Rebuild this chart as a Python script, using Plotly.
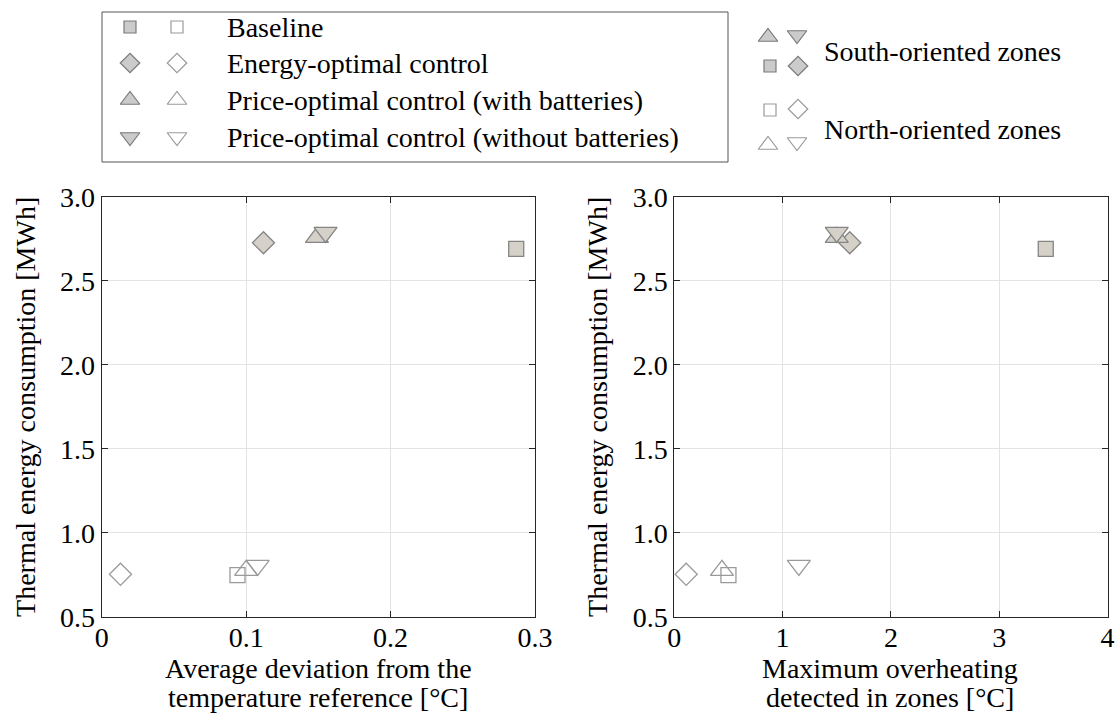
import plotly.graph_objects as go

W, H = 1117, 715

# ---------------- data ----------------
strategies = ["Baseline", "Energy-optimal control",
              "Price-optimal control (with batteries)",
              "Price-optimal control (without batteries)"]
symbols = ["square", "diamond", "triangle-up", "triangle-down"]

# Left panel: average deviation [°C] vs energy [MWh]
avgdev_south = [0.287, 0.112, 0.149, 0.155]
avgdev_north = [0.094, 0.013, 0.100, 0.108]
# Right panel: maximum overheating [°C]
maxov_south = [3.43, 1.62, 1.50, 1.50]
maxov_north = [0.50, 0.11, 0.44, 1.15]
# Energy consumption [MWh]
energy_south = [2.69, 2.726, 2.758, 2.788]
energy_north = [0.749, 0.754, 0.777, 0.807]

y_ticks = [0.5, 1.0, 1.5, 2.0, 2.5, 3.0]
y_ticklabels = ["0.5", "1.0", "1.5", "2.0", "2.5", "3.0"]
x1_ticks = [0, 0.1, 0.2, 0.3]
x1_ticklabels = ["0", "0.1", "0.2", "0.3"]
x2_ticks = [0, 1, 2, 3, 4]
x2_ticklabels = ["0", "1", "2", "3", "4"]
x1_title = ["Average deviation from the", "temperature reference [°C]"]
x2_title = ["Maximum overheating", "detected in zones [°C]"]
y_title = "Thermal energy consumption [MWh]"

FONT = "Liberation Serif"
FS = 28
FILL_S = "#d5d1c9"
EDGE_S = "#858585"
EDGE_N = "#9a9a9a"
LEG_FILL = "#cbcbcb"
LEG_EDGE = "#7a7a7a"

sizes = {"square": 15, "diamond": 17, "triangle-up": 20, "triangle-down": 20}

fig = go.Figure()

for xa, ya, xs, xn in [("x", "y", avgdev_south, avgdev_north),
                       ("x2", "y2", maxov_south, maxov_north)]:
    for i, sym in enumerate(symbols):
        fig.add_trace(go.Scatter(
            x=[xn[i]], y=[energy_north[i]], xaxis=xa, yaxis=ya, mode="markers",
            marker=dict(symbol=sym, size=sizes[sym], color="rgba(255,255,255,0)",
                        line=dict(color=EDGE_N, width=1.3)),
            showlegend=False, hoverinfo="skip", cliponaxis=False))
    for i, sym in enumerate(symbols):
        fig.add_trace(go.Scatter(
            x=[xs[i]], y=[energy_south[i]], xaxis=xa, yaxis=ya, mode="markers",
            marker=dict(symbol=sym, size=sizes[sym], color=FILL_S,
                        line=dict(color=EDGE_S, width=1.3)),
            showlegend=False, hoverinfo="skip", cliponaxis=False))

# ------------- legend (drawn on an overlay pixel axis) -------------
leg_rows_y = [27, 63, 100, 137]
leg_sizes = {"square": 12, "diamond": 15, "triangle-up": 17, "triangle-down": 17}
for k, (sym, yy) in enumerate(zip(symbols, leg_rows_y)):
    fig.add_trace(go.Scatter(x=[130], y=[yy], xaxis="x3", yaxis="y3", mode="markers",
                             marker=dict(symbol=sym, size=leg_sizes[sym], color=LEG_FILL,
                                         line=dict(color=LEG_EDGE, width=1.2)),
                             showlegend=False, hoverinfo="skip", cliponaxis=False))
    fig.add_trace(go.Scatter(x=[177], y=[yy], xaxis="x3", yaxis="y3", mode="markers",
                             marker=dict(symbol=sym, size=leg_sizes[sym], color="white",
                                         line=dict(color=EDGE_N, width=1.2)),
                             showlegend=False, hoverinfo="skip", cliponaxis=False))
    fig.add_annotation(x=225, y=yy, xref="x3", yref="y3", text=strategies[k],
                       showarrow=False, xanchor="left", yanchor="middle",
                       font=dict(family=FONT, size=FS, color="black"))

zone_marks = [
    ("triangle-up", 768, 37, True), ("triangle-down", 797, 35, True),
    ("square", 770, 66, True), ("diamond", 798, 66, True),
    ("square", 770, 110, False), ("diamond", 798, 109, False),
    ("triangle-up", 768, 145, False), ("triangle-down", 797, 142, False),
]
for sym, xx, yy, filled in zone_marks:
    fig.add_trace(go.Scatter(x=[xx], y=[yy], xaxis="x3", yaxis="y3", mode="markers",
                             marker=dict(symbol=sym, size=leg_sizes[sym],
                                         color=LEG_FILL if filled else "white",
                                         line=dict(color=LEG_EDGE if filled else EDGE_N, width=1.2)),
                             showlegend=False, hoverinfo="skip", cliponaxis=False))
fig.add_annotation(x=822, y=51, xref="x3", yref="y3", text="South-oriented zones",
                   showarrow=False, xanchor="left", yanchor="middle",
                   font=dict(family=FONT, size=FS, color="black"))
fig.add_annotation(x=822, y=129, xref="x3", yref="y3", text="North-oriented zones",
                   showarrow=False, xanchor="left", yanchor="middle",
                   font=dict(family=FONT, size=FS, color="black"))

fig.add_shape(type="rect", xref="paper", yref="paper",
              x0=102 / W, x1=728 / W, y0=1 - 162 / H, y1=1 - 12 / H,
              line=dict(color="#555555", width=1), fillcolor="rgba(0,0,0,0)", layer="above")

# x-axis titles (two lines, tighter spacing than plotly's default)
for cx, lines in [(318, x1_title), (890, x2_title)]:
    for ly, txt in zip([668, 697], lines):
        fig.add_annotation(x=cx, y=ly, xref="x3", yref="y3", text=txt, showarrow=False,
                           xanchor="center", yanchor="middle",
                           font=dict(family=FONT, size=FS, color="black"))

# ---------------- axes ----------------
ydom = [1 - 617 / H, 1 - 196.7 / H]
common = dict(showline=True, mirror="allticks", linecolor="#262626", linewidth=1,
              ticks="inside", ticklen=6, tickcolor="#262626", showgrid=True,
              gridcolor="#e3e3e3", gridwidth=1, zeroline=False, automargin=False,
              tickfont=dict(family=FONT, size=FS, color="black"))
xcommon = dict(common, ticklabelstandoff=-5)

fig.update_layout(
    width=W, height=H, margin=dict(l=0, r=0, t=0, b=0, autoexpand=False),
    paper_bgcolor="white", plot_bgcolor="rgba(0,0,0,0)", showlegend=False,
    font=dict(family=FONT, size=FS, color="black"),
    xaxis=dict(domain=[101.7 / W, 535 / W], range=[0, 0.3], tickvals=x1_ticks,
               ticktext=x1_ticklabels, anchor="y", **xcommon),
    yaxis=dict(domain=ydom, range=[0.5, 3.0], tickvals=y_ticks, ticktext=y_ticklabels,
               anchor="x",
               title=dict(text=y_title, font=dict(family=FONT, size=FS), standoff=16), **common),
    xaxis2=dict(domain=[674.3 / W, 1107.5 / W], range=[0, 4], tickvals=x2_ticks,
                ticktext=x2_ticklabels, anchor="y2", **xcommon),
    yaxis2=dict(domain=ydom, range=[0.5, 3.0], tickvals=y_ticks, ticktext=y_ticklabels,
                anchor="x2",
                title=dict(text=y_title, font=dict(family=FONT, size=FS), standoff=16), **common),
    xaxis3=dict(domain=[0, 1], range=[0, W], visible=False, fixedrange=True,
                anchor="y3", automargin=False),
    yaxis3=dict(domain=[0, 1], range=[H, 0], visible=False, fixedrange=True,
                anchor="x3", automargin=False),
)

fig.write_html("out.html", config={"displayModeBar": False},
               post_script="document.body.style.margin='0px';document.body.style.overflow='hidden';")
